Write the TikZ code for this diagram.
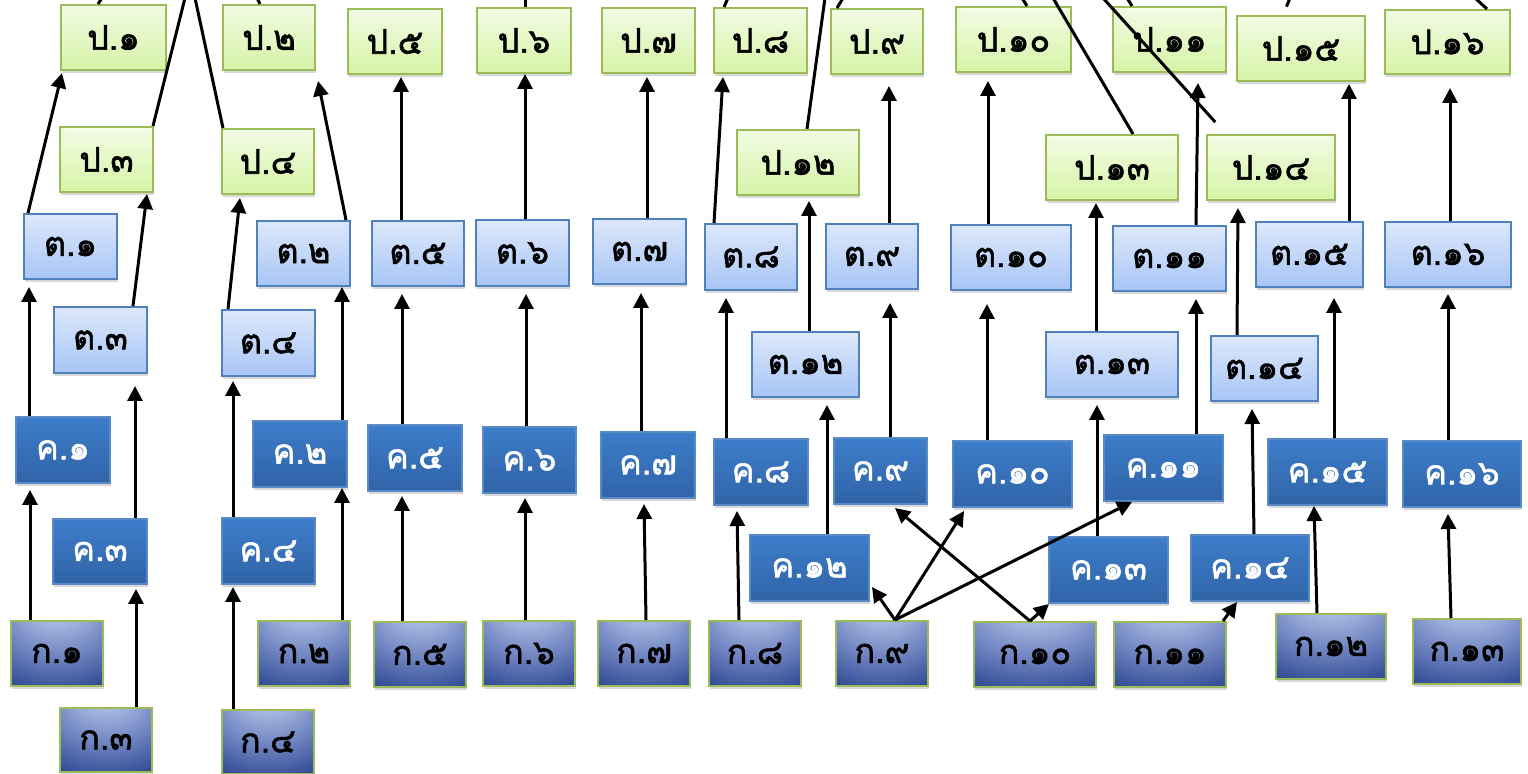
\documentclass[tikz,border=0pt]{standalone}
\usepackage{fontspec}
\newfontfamily\thaifont[Script=Thai,FakeBold=1.6]{Loma}
\usetikzlibrary{arrows.meta,calc,shadows}

\definecolor{pTop}{HTML}{F2FBE4}
\definecolor{pBot}{HTML}{D6F3A6}
\definecolor{pLine}{HTML}{9BBB59}
\definecolor{tTop}{HTML}{DDE8FB}
\definecolor{tBot}{HTML}{A7C5F6}
\definecolor{tLine}{HTML}{4F81BD}
\definecolor{kTop}{HTML}{3D7DCA}
\definecolor{kBot}{HTML}{3064A8}
\definecolor{kLine}{HTML}{5A8AC6}
\definecolor{gLight}{HTML}{B3C3E7}
\definecolor{gSoft}{HTML}{7388C3}
\definecolor{gMid}{HTML}{2D4791}
\definecolor{gDark}{HTML}{17307A}
\definecolor{gDeep}{HTML}{0B2368}
\pgfdeclareradialshading{gfade}{\pgfpoint{0bp}{48bp}}{color(0bp)=(gLight); color(10bp)=(gLight); color(27bp)=(gSoft); color(45bp)=(gMid); color(52bp)=(gDark); color(60bp)=(gDeep)}

\tikzset{
  bx/.style={rectangle, inner sep=0pt, line width=1pt,
    font=\thaifont\fontsize{17}{19}\selectfont,
    drop shadow={opacity=0.3,shadow xshift=0.6pt,shadow yshift=-1.4pt}},
  pbox/.style={bx, draw=pLine, top color=pTop, bottom color=pBot, text=black},
  tbox/.style={bx, draw=tLine, top color=tTop, bottom color=tBot, text=black},
  kbox/.style={bx, draw=kLine, top color=kTop, bottom color=kBot, text=white},
  gbox/.style={bx, draw=pLine, shade, shading=gfade, text=black},
  arr/.style={-{Triangle[width=7.5pt,length=7.5pt]}, line width=1.5pt},
  link/.style={line width=1.5pt},
}

\begin{document}
\begin{tikzpicture}[x=0.5pt,y=-0.5pt]
\useasboundingbox (0,0) rectangle (1528,774);
\fill[white] (0,0) rectangle (1528,774);
% ป
\foreach \n/\a/\b/\c/\d/\s in {1/61/5/166/70/๑, 2/223/5/315/70/๒, 3/60/127/153/192/๓, 4/222/129/314/194/๔,
    5/348/9/442/74/๕, 6/477/8/571/73/๖, 7/602/8/695/73/๗, 8/714/8/807/73/๘, 9/831/9/923/74/๙,
    10/956/7/1071/72/๑๐, 11/1113/7/1226/72/๑๑, 12/737/130/859/195/๑๒, 13/1046/135/1178/200/๑๓,
    14/1207/135/1335/200/๑๔, 15/1237/16/1365/81/๑๕, 16/1385/10/1510/74/๑๖}
  \node[pbox, minimum width={(\c-\a)*0.5pt}, minimum height={(\d-\b)*0.5pt}] (p\n) at ({(\a+\c)/2},{(\b+\d)/2}) {ป.\s};
% ต
\foreach \n/\a/\b/\c/\d/\s in {1/24/214/117/279/๑, 2/257/221/350/286/๒, 3/54/307/147/373/๓, 4/222/310/315/376/๔,
    5/372/221/464/286/๕, 6/476/220/569/286/๖, 7/593/219/686/284/๗, 8/705/224/797/290/๘, 9/826/224/918/289/๙,
    10/951/225/1071/290/๑๐, 11/1113/226/1226/291/๑๑, 12/752/332/859/397/๑๒, 13/1046/332/1178/397/๑๓,
    14/1211/336/1318/401/๑๔, 15/1256/222/1363/287/๑๕, 16/1385/222/1511/287/๑๖}
  \node[tbox, minimum width={(\c-\a)*0.5pt}, minimum height={(\d-\b)*0.5pt}] (t\n) at ({(\a+\c)/2},{(\b+\d)/2}) {ต.\s};
% ค
\foreach \n/\a/\b/\c/\d/\s in {1/16/417/110/483/๑, 2/253/421/347/487/๒, 3/53/519/147/584/๓, 4/222/518/315/584/๔,
    5/368/425/462/491/๕, 6/483/427/576/493/๖, 7/601/432/695/498/๗, 8/714/439/808/505/๘, 9/834/438/927/504/๙,
    10/953/441/1072/507/๑๐, 11/1104/435/1223/501/๑๑, 12/750/535/869/601/๑๒, 13/1049/537/1168/603/๑๓,
    14/1191/535/1309/601/๑๔, 15/1268/439/1387/505/๑๕, 16/1403/441/1521/507/๑๖}
  \node[kbox, minimum width={(\c-\a)*0.5pt}, minimum height={(\d-\b)*0.5pt}] (kh\n) at ({(\a+\c)/2},{(\b+\d)/2}) {ค.\s};
% ก
\foreach \n/\a/\b/\c/\d/\s in {1/11/621/103/686/๑, 2/258/621/350/686/๒, 3/60/708/152/772/๓, 4/222/710/314/774/๔,
    5/374/622/466/687/๕, 6/483/621/575/686/๖, 7/598/621/690/686/๗, 8/709/621/801/686/๘, 9/836/621/928/686/๙,
    10/974/622/1096/687/๑๐, 11/1114/622/1226/687/๑๑, 12/1276/614/1386/679/๑๒, 13/1413/619/1521/684/๑๓}
  \node[gbox, minimum width={(\c-\a)*0.5pt}, minimum height={(\d-\b)*0.5pt}] (g\n) at ({(\a+\c)/2},{(\b+\d)/2}) {ก.\s};

% arrows: from/to/x at start/x at tip/gap below target
\foreach \u/\v/\x/\y/\g in {g1/kh1/30/30/6, g3/kh3/136/136/4, g4/kh4/233/233/2, g2/kh2/342/342/0,
    g5/kh5/402/402/4, g6/kh6/525/525/4, g7/kh7/646/644/5, g8/kh8/739/737/5, g12/kh15/1317/1314/0,
    g13/kh16/1451/1448/6, g9/kh10/895/964/3, g9/kh11/895/1132/0, g10/kh9/1030/895/3,
    g10/kh13/1030/1049/0, g11/kh14/1223/1237/0,
    kh1/t1/29/29/7, kh3/t3/135/135/12, kh4/t4/233/233/4, kh2/t2/342/342/0, kh5/t5/402/402/7,
    kh6/t6/526/526/7, kh7/t7/641/641/8, kh8/t8/726/726/7, kh12/t12/827/827/7, kh9/t9/890/890/13,
    kh10/t10/987/987/13, kh13/t13/1097/1097/7, kh11/t11/1196/1196/7, kh14/t14/1254/1252/7,
    kh15/t15/1334/1334/10, kh16/t16/1448/1448/6,
    t1/p1/28/62/2, t3/p3/133/147/1, t4/p4/228/240/3, t2/p2/346/318/10, t5/p5/401/401/2,
    t6/p6/525/525/0, t7/p7/647/647/3, t8/p8/714/723/3, t12/p12/809/809/5, t9/p9/889/889/11,
    t10/p10/988/988/8, t13/p13/1096/1096/2, t11/p11/1196/1198/10, t14/p14/1237/1238/7,
    t15/p15/1349/1349/2, t16/p16/1450/1450/13}
  \draw[arr] (\u.north -| \x,0) -- ($(\v.south -| \y,0)+(0,\g)$);
\draw[arr] (g9.north -| 895,0) -- ($(kh12.east)+(2,19)$);

% lines leaving the top edge
\foreach \n/\x/\e/\s in {1/98/102/0, 2/260/257/0, 3/153/185/0, 4/223/195/0, 6/525/525/0, 8/724/728/0,
    9/837/843/0, 10/1027/1022/0, 11/1132/1127/0, 12/807/825/0, 13/1133/1053/0, 14/1226/1103/8,
    15/1283/1290/4.5, 16/1487/1475/0}
  {\coordinate (up\n) at (\e,-2);
   \draw[link, shorten <=\s pt] (p\n.north -| \x,0) -- (up\n);}
\end{tikzpicture}
\end{document}
